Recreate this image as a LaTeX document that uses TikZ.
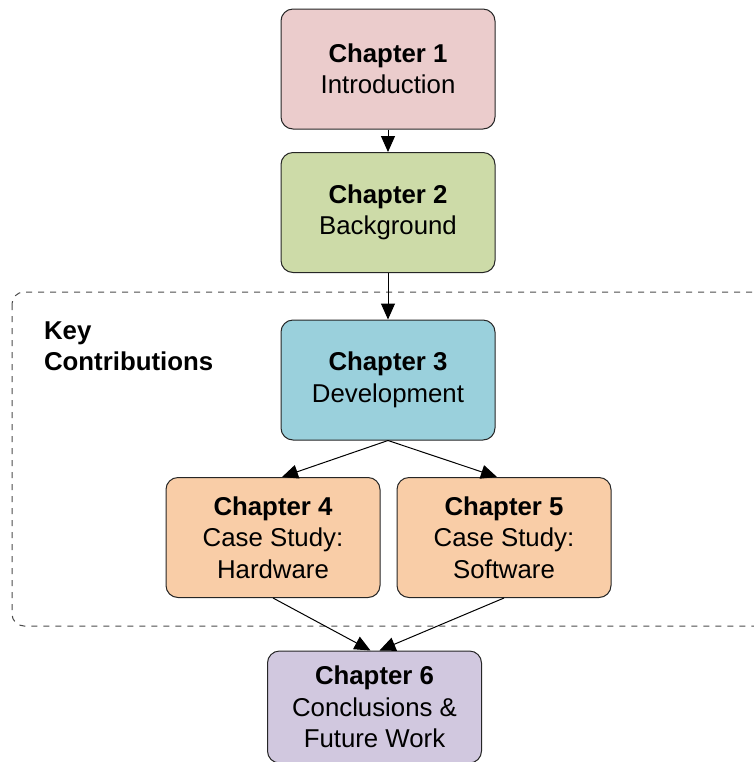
\documentclass[tikz,border=0pt]{standalone}
\usepackage{fontspec}
\setmainfont{Liberation Sans}
\usetikzlibrary{arrows.meta,positioning}

\definecolor{introcol}{RGB}{235,204,204}
\definecolor{backcol}{RGB}{205,219,168}
\definecolor{devcol}{RGB}{154,208,220}
\definecolor{casecol}{RGB}{249,205,167}
\definecolor{conccol}{RGB}{209,200,223}

\tikzset{
  chapter/.style={draw=black!85, line width=0.5pt, rounded corners=6pt,
    minimum width=107pt, minimum height=60pt, align=center,
    font=\fontsize{12.9}{15.75}\selectfont},
  link/.style={->, line width=0.5pt}
}

\begin{document}
\begin{tikzpicture}[x=0.5pt, y=-0.5pt, >={Triangle[length=8pt, width=7pt]}]

  \clip (0,0) rectangle (754,762);

  % key contributions group
  \draw[dashed, line width=0.5pt, draw=black!70, rounded corners=6pt]
        (12,292) rectangle (770,626);
  \node[anchor=west, align=left, font=\fontsize{12.9}{15.75}\selectfont\bfseries]
        (keylabel) at (37,346) {Key\\Contributions};

    \node[chapter, fill=introcol]   (ch1) at (388,69)    {\textbf{Chapter 1}\\Introduction};
    \node[chapter, fill=backcol]    (ch2) at (388,212.5) {\textbf{Chapter 2}\\Background};
    \node[chapter, fill=devcol]     (ch3) at (388,380)   {\textbf{Chapter 3}\\Development};
    \node[chapter, fill=casecol]    (ch4) at (273,537.5) {\textbf{Chapter 4}\\Case Study:\\Hardware};
    \node[chapter, fill=casecol]    (ch5) at (504,537.5) {\textbf{Chapter 5}\\Case Study:\\Software};
    \node[chapter, fill=conccol, minimum height=56pt]
                                    (ch6) at (374.5,707) {\textbf{Chapter 6}\\Conclusions \&\\Future Work};

    \draw[link] (ch1.south) -- (ch2.north);
    \draw[link] (ch2.south) -- (ch3.north);
    \draw[link] (ch3.south) -- ([xshift=4.5pt]ch4.north);
    \draw[link] (ch3.south) -- ([xshift=-3.5pt]ch5.north);
    \draw[link] (ch4.south) -- ([xshift=-2pt]ch6.north);
    \draw[link] (ch5.south) -- ([xshift=2.5pt]ch6.north);
\end{tikzpicture}
\end{document}
